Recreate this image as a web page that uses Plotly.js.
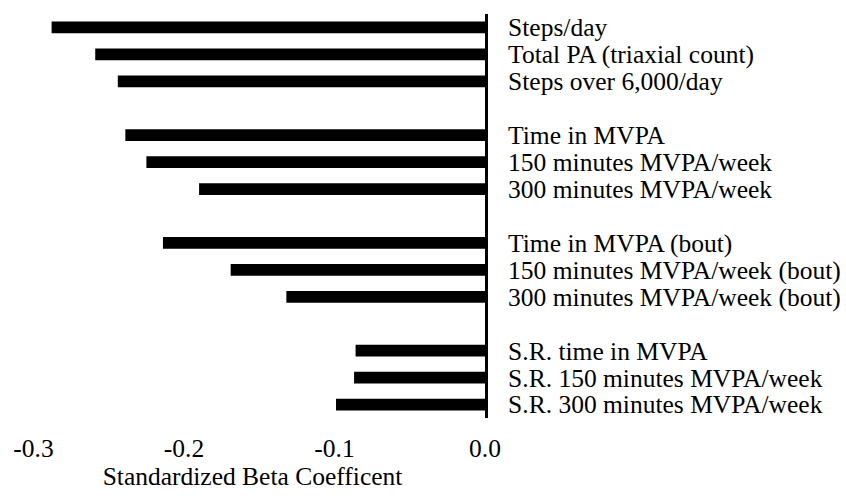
<!DOCTYPE html>
<html>
<head>
<meta charset="utf-8">
<script src="https://cdn.plot.ly/plotly-3.0.1.min.js"></script>
<style>html,body{margin:0;padding:0;background:#fff;}#chart{width:846px;height:496px;}</style>
</head>
<body>
<div id="chart"></div>
<script>
// Data: categories in display order (top to bottom), grouped
var categories = [
  "Steps/day", "Total PA (triaxial count)", "Steps over 6,000/day",
  "Time in MVPA", "150 minutes MVPA/week", "300 minutes MVPA/week",
  "Time in MVPA (bout)", "150 minutes MVPA/week (bout)", "300 minutes MVPA/week (bout)",
  "S.R. time in MVPA", "S.R. 150 minutes MVPA/week", "S.R. 300 minutes MVPA/week"
];
var groupIndex = [0,0,0, 1,1,1, 2,2,2, 3,3,3];
var betaValues = [
  -0.288, -0.259, -0.244,
  -0.239, -0.225, -0.190,
  -0.214, -0.169, -0.132,
  -0.086, -0.087, -0.099
];
var xTickVals = [-0.3, -0.2, -0.1, 0.0];
var xTickText = ["-0.3", "-0.2", "-0.1", "0.0"];
var xTitle = "Standardized Beta Coefficent";

// Row slots: one blank row between groups
var rows = categories.map(function(c, i){ return i + 1 + groupIndex[i]; });
var nRows = rows[rows.length - 1];

var serif = "'Liberation Serif', 'Times New Roman', Times, serif";
var fs = 25.5;

var trace = {
  type: "bar",
  orientation: "h",
  x: betaValues,
  y: rows,
  width: 0.435,
  marker: {color: "#000000", line: {width: 0}},
  hoverinfo: "skip"
};

var layout = {
  width: 846, height: 496,
  margin: {l: 20, r: 361, t: 14, b: 78},
  paper_bgcolor: "#ffffff",
  plot_bgcolor: "#ffffff",
  showlegend: false,
  font: {family: serif, color: "#000", size: fs},
  xaxis: {
    range: [-0.309, 0],
    tickvals: xTickVals,
    ticktext: xTickText,
    showgrid: false,
    zeroline: false,
    showline: false,
    ticks: "",
    ticklabelstandoff: 12,
    tickfont: {family: serif, size: fs, color: "#000"},
    title: {text: xTitle, font: {family: serif, size: fs, color: "#000"}, standoff: 4}
  },
  yaxis: {
    side: "right",
    range: [nRows + 0.5, 0.5],
    tickvals: rows,
    ticktext: categories,
    showgrid: false,
    zeroline: false,
    showline: true,
    linecolor: "#000",
    linewidth: 3,
    ticks: "",
    ticklabelstandoff: 15,
    tickfont: {family: serif, size: fs, color: "#000"}
  }
};

Plotly.newPlot("chart", [trace], layout, {staticPlot: true, displayModeBar: false});
</script>
</body>
</html>
